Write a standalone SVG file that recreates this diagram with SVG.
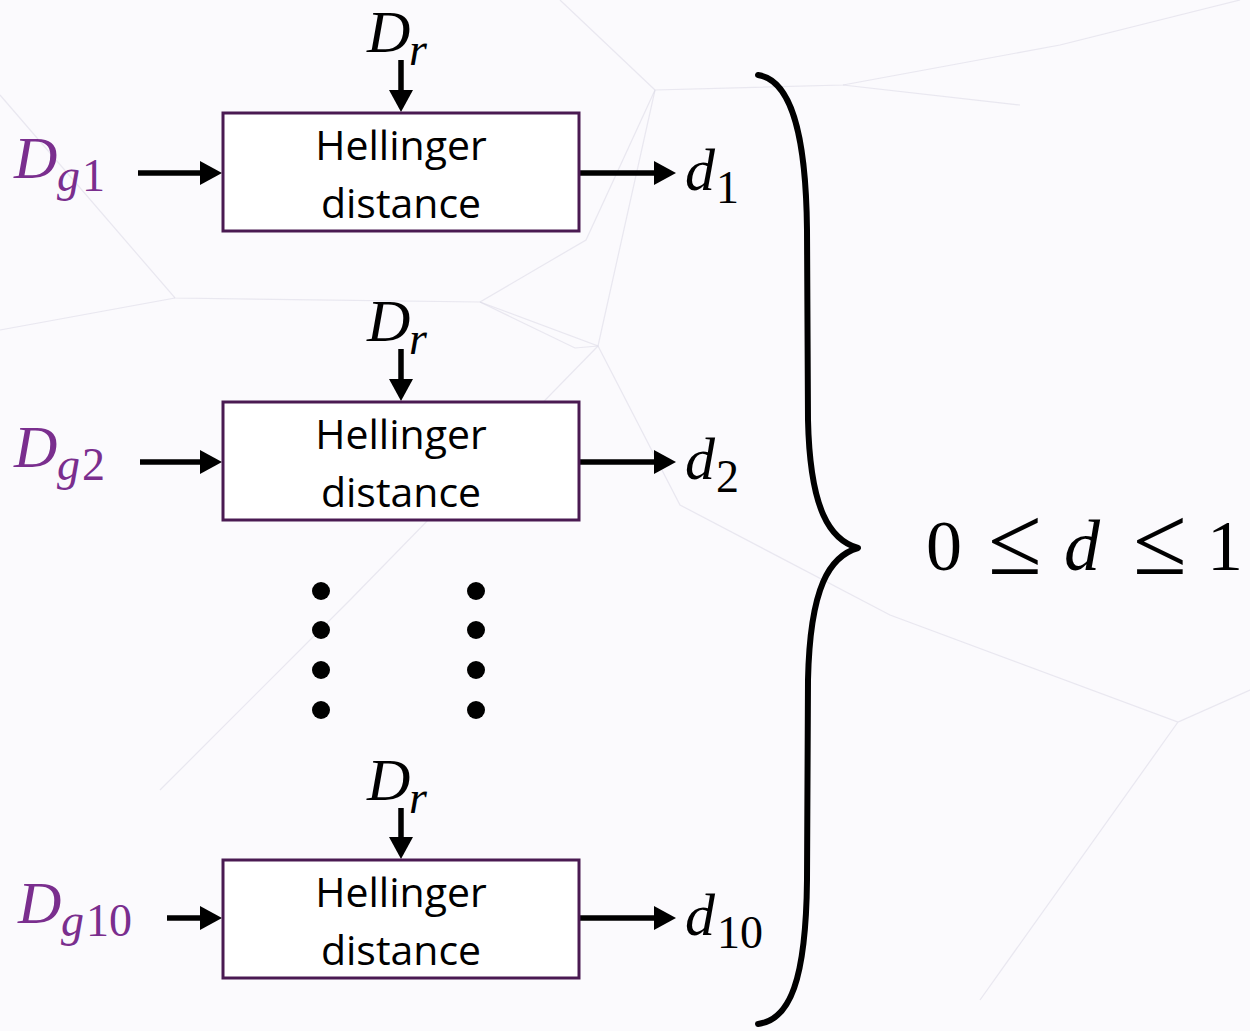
<svg xmlns="http://www.w3.org/2000/svg" width="1250" height="1031" viewBox="0 0 1250 1031">
<style>
.box{fill:#ffffff;stroke:#4a1a52;stroke-width:3}
.lbl{font-family:"Open Sans","Liberation Sans",sans-serif;font-size:41px;fill:#000;text-anchor:middle}
.math{font-family:"Liberation Serif","DejaVu Serif",serif;font-style:italic;fill:#000;font-size:60px}
.sub{font-size:46px}
.up{font-style:normal}
.pur{fill:#7a2e8e}
.le{font-size:98px}
.wire{stroke:#000;stroke-width:5.5;fill:none}
.bg{stroke:#d8d6e4;stroke-width:1.2;fill:none;opacity:0.5}
</style>
<defs>
<marker id="ah" markerWidth="22" markerHeight="24" viewBox="0 0 22 24" refX="12" refY="12" orient="auto" markerUnits="userSpaceOnUse">
<path d="M0,0 L22,12 L0,24 Z" fill="#000"/>
</marker>
</defs>
<rect width="1250" height="1031" fill="#fbfafd"/>
<g id="background">
<path class="bg" d="M0,95 L175,298 L480,302 L575,348 L598,346 L655,90 L843,85 L1060,45 L1240,0"/>
<path class="bg" d="M175,298 L0,330 M480,302 L598,346 L680,505 L890,615 L1178,722 L1250,690 M598,346 L350,600 L160,790 M843,85 L1020,105 M655,90 L560,0 M480,302 L586,240 L655,90 M1178,722 L980,1000"/>
</g>
<g id="connectors">
<line class="wire" x1="401" y1="60" x2="401" y2="102" marker-end="url(#ah)"/>
<line class="wire" x1="138" y1="173" x2="212" y2="173" marker-end="url(#ah)"/>
<line class="wire" x1="578" y1="173" x2="666" y2="173" marker-end="url(#ah)"/>
<line class="wire" x1="401" y1="349" x2="401" y2="391" marker-end="url(#ah)"/>
<line class="wire" x1="140" y1="462" x2="212" y2="462" marker-end="url(#ah)"/>
<line class="wire" x1="578" y1="462" x2="666" y2="462" marker-end="url(#ah)"/>
<line class="wire" x1="401" y1="808" x2="401" y2="849" marker-end="url(#ah)"/>
<line class="wire" x1="167" y1="918" x2="212" y2="918" marker-end="url(#ah)"/>
<line class="wire" x1="578" y1="918" x2="666" y2="918" marker-end="url(#ah)"/>
</g>
<g id="node1">
<rect class="box" x="223" y="113" width="356" height="118"/>
<text class="lbl" x="401" y="160">Hellinger</text>
<text class="lbl" x="401" y="218">distance</text>
</g>
<g id="node2">
<rect class="box" x="223" y="402" width="356" height="118"/>
<text class="lbl" x="401" y="449">Hellinger</text>
<text class="lbl" x="401" y="507">distance</text>
</g>
<g id="node3">
<rect class="box" x="223" y="860" width="356" height="118"/>
<text class="lbl" x="401" y="907">Hellinger</text>
<text class="lbl" x="401" y="965">distance</text>
</g>
<g id="dr1"><text class="math" x="367" y="52">D<tspan class="sub" x="409" dy="13">r</tspan></text></g>
<g id="dr2"><text class="math" x="367" y="341">D<tspan class="sub" x="409" dy="13">r</tspan></text></g>
<g id="dr3"><text class="math" x="367" y="800">D<tspan class="sub" x="409" dy="13">r</tspan></text></g>
<g id="dg1"><text class="math pur" x="14" y="178">D<tspan class="sub" x="57" dy="13">g</tspan><tspan class="sub up" x="82">1</tspan></text></g>
<g id="dg2"><text class="math pur" x="14" y="467">D<tspan class="sub" x="57" dy="13">g</tspan><tspan class="sub up" x="82">2</tspan></text></g>
<g id="dg10"><text class="math pur" x="18" y="923">D<tspan class="sub" x="61" dy="13">g</tspan><tspan class="sub up" x="86">10</tspan></text></g>
<g id="d1"><text class="math" x="685" y="190">d<tspan class="sub up" x="716" dy="13">1</tspan></text></g>
<g id="d2"><text class="math" x="685" y="479">d<tspan class="sub up" x="716" dy="13">2</tspan></text></g>
<g id="d10"><text class="math" x="685" y="935">d<tspan class="sub up" x="717" dy="13">10</tspan></text></g>
<g id="dots" fill="#000">
<circle cx="321" cy="591" r="9"/><circle cx="321" cy="630" r="9"/><circle cx="321" cy="670" r="9"/><circle cx="321" cy="710" r="9"/>
<circle cx="476" cy="591" r="9"/><circle cx="476" cy="630" r="9"/><circle cx="476" cy="670" r="9"/><circle cx="476" cy="710" r="9"/>
</g>
<g id="brace">
<path d="M758,75 C790,80 806,130 807,230 L808,420 C810,510 830,540 858,548 C830,556 810,586 808,680 L807,880 C806,980 790,1020 758,1024" fill="none" stroke="#000" stroke-width="6" stroke-linecap="round" stroke-linejoin="round"/>
</g>
<g id="range">
<text y="570" font-family="Liberation Serif,DejaVu Serif,serif" font-size="72" fill="#000"><tspan x="926">0</tspan><tspan class="le" x="988" y="574">≤</tspan><tspan x="1064" y="570" font-style="italic">d</tspan><tspan class="le" x="1133" y="574">≤</tspan><tspan x="1207" y="570">1</tspan></text>
</g>
</svg>
